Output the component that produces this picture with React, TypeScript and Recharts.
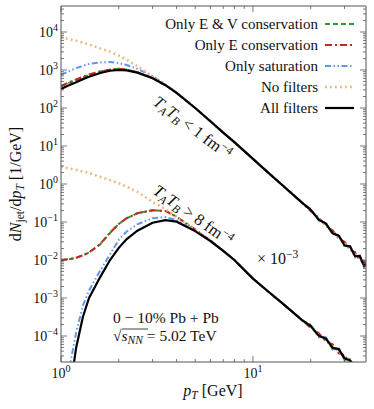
import React from 'react';
import { LineChart, Line, XAxis, YAxis } from 'recharts';

// transverse momentum grid [GeV]
const ptGrid = [1, 1.1, 1.2, 1.3, 1.4, 1.6, 1.8, 2, 2.2, 2.5, 3, 3.5, 4, 5, 6, 7, 8, 10, 12, 14, 16, 18, 20, 22, 24, 26, 28, 30, 32, 34, 36, 38, 39];

// T_A T_B < 1 fm^-4
const allLow = [316, 398, 479, 575, 661, 832, 955, 1000, 977, 851, 603, 398, 251, 100, 44.7, 22.4, 12.6, 4.57, 2.0, 1.0, 0.55, 0.324, 0.209, 0.115, 0.0912, 0.0501, 0.0437, 0.024, 0.0229, 0.0126, 0.0126, 0.00692, 0.00776];
const eOnlyLow = [380, 468, 562, 661, 759, 912, 1023, 1072, 1023, 871, 617, 398, 251, 100, 44.7, 22.4, 12.6, 4.57, 2.0, 1.0, 0.55, 0.324, 0.191, 0.132, 0.0794, 0.0603, 0.0363, 0.0302, 0.0182, 0.0162, 0.00977, 0.00933, 0.00661];
const evLow = [372, 457, 550, 646, 741, 912, 1023, 1072, 1023, 871, 617, 398, 251, 100, 44.7, 22.4, 12.6, 4.57, 2.0, 1.0, 0.55, 0.324, 0.204, 0.12, 0.0871, 0.0525, 0.0417, 0.0257, 0.0214, 0.0138, 0.0117, 0.00759, 0.00759];
const satLow = [741, 933, 1122, 1288, 1445, 1585, 1622, 1514, 1349, 1072, 692, 417, 257, 100, 44.7, 22.4, 12.6, 4.57, 2.0, 1.0, 0.55, 0.324, 0.219, 0.11, 0.0955, 0.0479, 0.0457, 0.0224, 0.024, 0.0117, 0.0132, 0.00631, 0.00813];
const noneLow = [7244, 6457, 5888, 5248, 4677, 3715, 3020, 2399, 1862, 1259, 676, 407, 251, 100, 44.7, 22.4, 12.6, 4.57, 2.0, 1.0, 0.55, 0.324, 0.2, 0.123, 0.0832, 0.055, 0.0398, 0.0269, 0.0204, 0.0145, 0.0112, 0.00813, 0.00724];

// T_A T_B > 8 fm^-4, already scaled by 10^-3
const allHigh = [null, 2.51e-6, 5.01e-5, 3.16e-4, 1.0e-3, 3.55e-3, 0.01, 0.0209, 0.0355, 0.0589, 0.0955, 0.112, 0.102, 0.0575, 0.0316, 0.0174, 0.01, 3.24e-3, 1.48e-3, 7.76e-4, 4.37e-4, 2.63e-4, 1.82e-4, 1.02e-4, 8.51e-5, 4.9e-5, 4.47e-5, 2.57e-5, 2.29e-5, 1.55e-5, 1.17e-5, 8.91e-6, 7.94e-6];
const eOnlyHigh = [0.01, 0.0105, 0.0115, 0.0132, 0.0158, 0.0263, 0.0525, 0.0891, 0.126, 0.17, 0.204, 0.195, 0.138, 0.0631, 0.0324, 0.0174, 0.01, 3.24e-3, 1.48e-3, 7.76e-4, 4.37e-4, 2.63e-4, 1.62e-4, 1.2e-4, 7.08e-5, 6.03e-5, 3.47e-5, 3.16e-5, 1.82e-5, 1.66e-5, 1.07e-5, 9.55e-6, 7.41e-6];
const evHigh = [0.01, 0.0105, 0.0115, 0.0132, 0.0158, 0.0257, 0.0513, 0.0891, 0.126, 0.17, 0.204, 0.195, 0.138, 0.0631, 0.0324, 0.0174, 0.01, 3.24e-3, 1.48e-3, 7.76e-4, 4.37e-4, 2.63e-4, 1.91e-4, 9.55e-5, 8.91e-5, 4.57e-5, 4.68e-5, 2.4e-5, 2.45e-5, 1.38e-5, 1.26e-5, 8.32e-6, 8.32e-6];
const satHigh = [null, 1.26e-5, 1.26e-4, 6.31e-4, 1.58e-3, 5.25e-3, 0.0141, 0.0339, 0.0562, 0.0871, 0.126, 0.135, 0.112, 0.0603, 0.0324, 0.0174, 0.01, 3.24e-3, 1.48e-3, 7.76e-4, 4.37e-4, 2.63e-4, 2.0e-4, 9.33e-5, 9.33e-5, 4.37e-5, 4.9e-5, 2.29e-5, 2.51e-5, 1.32e-5, 1.29e-5, 7.94e-6, 8.71e-6];
const noneHigh = [2.82, 2.57, 2.34, 2.14, 1.95, 1.55, 1.26, 1.05, 0.851, 0.617, 0.339, 0.219, 0.132, 0.0631, 0.0324, 0.0174, 0.01, 3.24e-3, 1.48e-3, 7.76e-4, 4.37e-4, 2.63e-4, 1.74e-4, 1.07e-4, 7.94e-5, 5.25e-5, 3.89e-5, 2.82e-5, 2.04e-5, 1.51e-5, 1.15e-5, 8.71e-6, 7.76e-6];

// axis ticks
const xDomain = [1, 38.8];
const yDomain = [2.07e-5, 4.83e4];
const xMajor = [1, 10];
const yMajor = [1e-4, 1e-3, 1e-2, 1e-1, 1, 10, 100, 1e3, 1e4];
const minorSteps = [2, 3, 4, 5, 6, 7, 8, 9];

const inDomain = (v: number, d: number[]) => v >= d[0] && v <= d[1];
const xTicks = [...xMajor, ...xMajor.flatMap((m) => minorSteps.map((s) => s * m))].filter((v) => inDomain(v, xDomain));
const yTicks = [...yMajor, ...[1e-5, ...yMajor].flatMap((m) => minorSteps.map((s) => s * m))].filter((v) => inDomain(v, yDomain));

const chartData = ptGrid.map((pt, i) => ({
  pt,
  allLow: allLow[i], eOnlyLow: eOnlyLow[i], evLow: evLow[i], satLow: satLow[i], noneLow: noneLow[i],
  allHigh: allHigh[i], eOnlyHigh: eOnlyHigh[i], evHigh: evHigh[i], satHigh: satHigh[i], noneHigh: noneHigh[i],
}));

const FONT = '"Liberation Serif", "Times New Roman", serif';
const FRAME = '#555';

const SERIES = [
  { key: 'ev', name: 'Only E & V conservation', color: '#2a9a2a', dash: '5 3', width: 2 },
  { key: 'eOnly', name: 'Only E conservation', color: '#c62828', dash: '7 3 2 3', width: 2 },
  { key: 'sat', name: 'Only saturation', color: '#6495ed', dash: '6 2.5 1.5 2.5 1.5 2.5', width: 2 },
  { key: 'none', name: 'No filters', color: '#eeb47f', dash: '1.8 3.2', width: 2.5 },
  { key: 'all', name: 'All filters', color: '#000000', dash: undefined, width: 2.2 },
];

const isDecade = (v: number) => Math.abs(Math.log10(v) - Math.round(Math.log10(v))) < 1e-6;

const Pow10 = ({ x, y, v, anchor }: any) => {
  const e = Math.round(Math.log10(v));
  return (
    <text x={x} y={y} textAnchor={anchor} fontFamily={FONT} fontSize={14} fill="#111">
      10<tspan dy={-6} fontSize={10}>{e < 0 ? `\u2212${-e}` : `${e}`}</tspan>
    </text>
  );
};

const BottomTick = ({ x, y, payload }: any) => {
  const major = isDecade(payload.value);
  return (
    <g>
      <line x1={x} x2={x} y1={y} y2={y - (major ? 6 : 3)} stroke={FRAME} strokeWidth={0.8} />
      {major && <Pow10 x={x} y={y + 16} v={payload.value} anchor="middle" />}
    </g>
  );
};

const TopTick = ({ x, y, payload }: any) => (
  <line x1={x} x2={x} y1={y} y2={y + (isDecade(payload.value) ? 6 : 3)} stroke={FRAME} strokeWidth={0.8} />
);

const LeftTick = ({ x, y, payload }: any) => {
  const major = isDecade(payload.value);
  return (
    <g>
      <line x1={x} x2={x + (major ? 6 : 3)} y1={y} y2={y} stroke={FRAME} strokeWidth={0.8} />
      {major && <Pow10 x={x - 3} y={y + 5} v={payload.value} anchor="end" />}
    </g>
  );
};

const RightTick = ({ x, y, payload }: any) => (
  <line x1={x} x2={x - (isDecade(payload.value) ? 6 : 3)} y1={y} y2={y} stroke={FRAME} strokeWidth={0.8} />
);

const sub = 11.5;

const Overlay = () => (
  <svg width={374} height={409} style={{ position: 'absolute', left: 0, top: 0, pointerEvents: 'none' }} fontFamily={FONT} fill="#111">
    {/* legend */}
    {SERIES.map((s, i) => (
      <g key={s.key}>
        <text x={318} y={29 + i * 21} textAnchor="end" fontSize={15}>{s.name}</text>
        <line x1={325} x2={354} y1={24 + i * 21} y2={24 + i * 21} stroke={s.color} strokeWidth={s.width} strokeDasharray={s.dash} />
      </g>
    ))}

    {/* group annotations */}
    <text transform="translate(152,104) rotate(37)" fontSize={16.5}>
      <tspan fontStyle="italic">T</tspan><tspan fontStyle="italic" fontSize={sub} dy={3}>A</tspan>
      <tspan fontStyle="italic" dy={-3}>T</tspan><tspan fontStyle="italic" fontSize={sub} dy={3}>B</tspan>
      <tspan dy={-3}> &lt; 1 fm</tspan><tspan fontSize={sub} dy={-6}>{'\u22124'}</tspan>
    </text>
    <text transform="translate(152,193) rotate(35)" fontSize={16.5}>
      <tspan fontStyle="italic">T</tspan><tspan fontStyle="italic" fontSize={sub} dy={3}>A</tspan>
      <tspan fontStyle="italic" dy={-3}>T</tspan><tspan fontStyle="italic" fontSize={sub} dy={3}>B</tspan>
      <tspan dy={-3}> &gt; 8 fm</tspan><tspan fontSize={sub} dy={-6}>{'\u22124'}</tspan>
    </text>
    <text x={257} y={264} fontSize={16}>
      {'\u00d7 10'}<tspan fontSize={sub} dy={-6}>{'\u22123'}</tspan>
    </text>

    {/* collision system */}
    <text x={113} y={323} fontSize={15.5}>{'0 \u2212 10% Pb + Pb'}</text>
    <text x={113} y={341} fontSize={15.5}>
      {'\u221a'}<tspan fontStyle="italic">s</tspan><tspan fontStyle="italic" fontSize={sub} dy={3}>NN</tspan>
      <tspan dy={-3}>{' = 5.02 TeV'}</tspan>
    </text>
    <line x1={122} x2={148} y1={329} y2={329} stroke="#111" strokeWidth={0.8} />

    {/* axis titles */}
    <text x={213} y={396} textAnchor="middle" fontSize={16}>
      <tspan fontStyle="italic">p</tspan><tspan fontStyle="italic" fontSize={sub} dy={3}>T</tspan>
      <tspan dy={-3}> [GeV]</tspan>
    </text>
    <text transform="translate(21,184) rotate(-90)" textAnchor="middle" fontSize={16}>
      d<tspan fontStyle="italic">N</tspan><tspan fontSize={sub} dy={3}>jet</tspan>
      <tspan dy={-3}>/d</tspan><tspan fontStyle="italic">p</tspan><tspan fontStyle="italic" fontSize={sub} dy={3}>T</tspan>
      <tspan dy={-3}> [1/GeV]</tspan>
    </text>
  </svg>
);

export default function App() {
  return (
    <div style={{ position: 'absolute', left: 0, top: 0, width: 374, height: 409, background: '#fff' }}>
      <LineChart width={374} height={409} data={chartData} margin={{ top: 5, right: 7, bottom: 46, left: 60 }}>
        <XAxis dataKey="pt" type="number" scale="log" domain={xDomain} allowDataOverflow ticks={xTicks} interval={0}
          height={1} tickSize={0} tickMargin={0} tickLine={false} axisLine={{ stroke: FRAME }} tick={<BottomTick />} />
        <XAxis xAxisId="top" orientation="top" dataKey="pt" type="number" scale="log" domain={xDomain} allowDataOverflow ticks={xTicks} interval={0}
          height={1} tickSize={0} tickMargin={0} tickLine={false} axisLine={{ stroke: FRAME }} tick={<TopTick />} />
        <YAxis type="number" scale="log" domain={yDomain} allowDataOverflow ticks={yTicks} interval={0}
          width={1} tickSize={0} tickMargin={0} tickLine={false} axisLine={{ stroke: FRAME }} tick={<LeftTick />} />
        <YAxis yAxisId="right" orientation="right" type="number" scale="log" domain={yDomain} allowDataOverflow ticks={yTicks} interval={0}
          width={1} tickSize={0} tickMargin={0} tickLine={false} axisLine={{ stroke: FRAME }} tick={<RightTick />} />
        {['Low', 'High'].flatMap((g) =>
          SERIES.map((s) => (
            <Line key={s.key + g} dataKey={s.key + g} name={s.name} type="linear" stroke={s.color}
              strokeWidth={s.width} strokeDasharray={s.dash} dot={false} activeDot={false}
              isAnimationActive={false} legendType="none" />
          ))
        )}
      </LineChart>
      <Overlay />
    </div>
  );
}
